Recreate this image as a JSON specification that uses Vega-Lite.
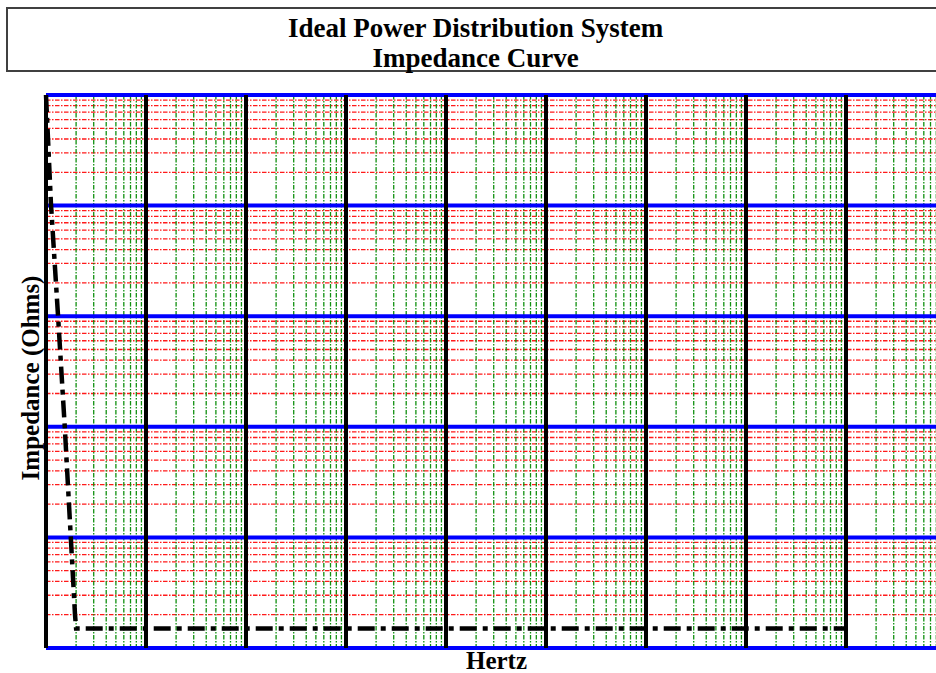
{
  "$schema": "https://vega.github.io/schema/vega-lite/v6.json",
  "padding": {"left": 6, "top": 7, "right": 0, "bottom": 0},
  "background": "white",
  "spacing": 12,
  "columns": 1,
  "config": {"view": {"stroke": null}},
  "datasets": {
    "curve": [
      {"f": 1, "z": 100000},
      {"f": 1.12, "z": 10500},
      {"f": 1.32, "z": 1000},
      {"f": 1.54, "z": 100},
      {"f": 1.77, "z": 10},
      {"f": 1.95, "z": 2.0},
      {"f": 2.0, "z": 1.5},
      {"f": 95500000, "z": 1.5}
    ],
    "xmajor": [
      {"f": 1}, {"f": 10}, {"f": 100}, {"f": 1000}, {"f": 10000}, {"f": 100000}, {"f": 1000000}, {"f": 10000000}, {"f": 100000000}, {"f": 1000000000}
    ],
    "ymajor": [
      {"z": 1}, {"z": 10}, {"z": 100}, {"z": 1000}, {"z": 10000}, {"z": 100000}
    ],
    "xminor": [
      {"f": 2}, {"f": 3}, {"f": 4}, {"f": 5}, {"f": 6}, {"f": 7}, {"f": 8}, {"f": 9},
      {"f": 20}, {"f": 30}, {"f": 40}, {"f": 50}, {"f": 60}, {"f": 70}, {"f": 80}, {"f": 90},
      {"f": 200}, {"f": 300}, {"f": 400}, {"f": 500}, {"f": 600}, {"f": 700}, {"f": 800}, {"f": 900},
      {"f": 2000}, {"f": 3000}, {"f": 4000}, {"f": 5000}, {"f": 6000}, {"f": 7000}, {"f": 8000}, {"f": 9000},
      {"f": 20000}, {"f": 30000}, {"f": 40000}, {"f": 50000}, {"f": 60000}, {"f": 70000}, {"f": 80000}, {"f": 90000},
      {"f": 200000}, {"f": 300000}, {"f": 400000}, {"f": 500000}, {"f": 600000}, {"f": 700000}, {"f": 800000}, {"f": 900000},
      {"f": 2000000}, {"f": 3000000}, {"f": 4000000}, {"f": 5000000}, {"f": 6000000}, {"f": 7000000}, {"f": 8000000}, {"f": 9000000},
      {"f": 20000000}, {"f": 30000000}, {"f": 40000000}, {"f": 50000000}, {"f": 60000000}, {"f": 70000000}, {"f": 80000000}, {"f": 90000000},
      {"f": 200000000}, {"f": 300000000}, {"f": 400000000}, {"f": 500000000}, {"f": 600000000}, {"f": 700000000}, {"f": 800000000}, {"f": 900000000}
    ],
    "yminor": [
      {"z": 2}, {"z": 3}, {"z": 4}, {"z": 5}, {"z": 6}, {"z": 7}, {"z": 8}, {"z": 9},
      {"z": 20}, {"z": 30}, {"z": 40}, {"z": 50}, {"z": 60}, {"z": 70}, {"z": 80}, {"z": 90},
      {"z": 200}, {"z": 300}, {"z": 400}, {"z": 500}, {"z": 600}, {"z": 700}, {"z": 800}, {"z": 900},
      {"z": 2000}, {"z": 3000}, {"z": 4000}, {"z": 5000}, {"z": 6000}, {"z": 7000}, {"z": 8000}, {"z": 9000},
      {"z": 20000}, {"z": 30000}, {"z": 40000}, {"z": 50000}, {"z": 60000}, {"z": 70000}, {"z": 80000}, {"z": 90000}
    ],
    "titles": [
      {"t": "Ideal Power Distribution System\nImpedance Curve"}
    ]
  },
  "concat": [
    {
      "width": 937,
      "height": 63,
      "view": {"stroke": "#404040", "strokeWidth": 2},
      "data": {"name": "titles"},
      "mark": {
        "type": "text",
        "baseline": "top",
        "align": "center",
        "dy": -24,
        "lineBreak": "\n",
        "lineHeight": 30.6,
        "font": "Liberation Serif",
        "fontSize": 27,
        "fontWeight": "bold",
        "color": "#000000"
      },
      "encoding": {"text": {"field": "t", "type": "nominal"}}
    },
    {
      "width": 939,
      "height": 553,
      "layer": [
        {
          "data": {"name": "yminor"},
          "mark": {"type": "rule", "color": "#ff1a1a", "strokeWidth": 1.3, "strokeDash": [4.5, 1.5, 1.5, 1.5]},
          "encoding": {
            "y": {"field": "z", "type": "quantitative",
              "scale": {"type": "log", "domain": [1, 100000], "nice": false},
              "axis": {"title": "Impedance (Ohms)", "labels": false, "domain": false, "grid": false, "ticks": false,
                "titleFont": "Liberation Serif", "titleFontSize": 25, "titleFontWeight": "bold", "titleColor": "#000000",
                "titleX": 36, "titleY": 282.5, "titleAngle": 270, "titleBaseline": "bottom", "titleAlign": "center"}},
            "x": {"datum": 1, "type": "quantitative",
              "scale": {"type": "log", "domain": [0.40738, 1000000000], "nice": false},
              "axis": {"title": "Hertz", "labels": false, "domain": false, "grid": false, "ticks": false,
                "titleFont": "Liberation Serif", "titleFontSize": 25, "titleFontWeight": "bold", "titleColor": "#000000",
                "titleX": 489, "titleY": 0, "titleBaseline": "top", "titleAlign": "center"}},
            "x2": {"datum": 1000000000}
          }
        },
        {
          "data": {"name": "xminor"},
          "mark": {"type": "rule", "color": "#109010", "strokeWidth": 1.3, "strokeDash": [4.5, 1.5, 1.5, 1.5]},
          "encoding": {
            "x": {"field": "f", "type": "quantitative",
              "scale": {"type": "log", "domain": [0.40738, 1000000000], "nice": false},
              "axis": {"title": "Hertz", "labels": false, "domain": false, "grid": false, "ticks": false,
                "titleFont": "Liberation Serif", "titleFontSize": 25, "titleFontWeight": "bold", "titleColor": "#000000",
                "titleX": 489, "titleY": 0, "titleBaseline": "top", "titleAlign": "center"}}
          }
        },
        {
          "data": {"name": "ymajor"},
          "mark": {"type": "rule", "color": "#0000ff", "strokeWidth": 4},
          "encoding": {
            "y": {"field": "z", "type": "quantitative",
              "scale": {"type": "log", "domain": [1, 100000], "nice": false},
              "axis": {"title": "Impedance (Ohms)", "labels": false, "domain": false, "grid": false, "ticks": false,
                "titleFont": "Liberation Serif", "titleFontSize": 25, "titleFontWeight": "bold", "titleColor": "#000000",
                "titleX": 36, "titleY": 282.5, "titleAngle": 270, "titleBaseline": "bottom", "titleAlign": "center"}},
            "x": {"datum": 1, "type": "quantitative",
              "scale": {"type": "log", "domain": [0.40738, 1000000000], "nice": false},
              "axis": {"title": "Hertz", "labels": false, "domain": false, "grid": false, "ticks": false,
                "titleFont": "Liberation Serif", "titleFontSize": 25, "titleFontWeight": "bold", "titleColor": "#000000",
                "titleX": 489, "titleY": 0, "titleBaseline": "top", "titleAlign": "center"}},
            "x2": {"datum": 1000000000}
          }
        },
        {
          "data": {"name": "xmajor"},
          "mark": {"type": "rule", "color": "#000000", "strokeWidth": 4},
          "encoding": {
            "x": {"field": "f", "type": "quantitative",
              "scale": {"type": "log", "domain": [0.40738, 1000000000], "nice": false},
              "axis": {"title": "Hertz", "labels": false, "domain": false, "grid": false, "ticks": false,
                "titleFont": "Liberation Serif", "titleFontSize": 25, "titleFontWeight": "bold", "titleColor": "#000000",
                "titleX": 489, "titleY": 0, "titleBaseline": "top", "titleAlign": "center"}}
          }
        },
        {
          "data": {"name": "curve"},
          "mark": {"type": "line", "color": "#000000", "strokeWidth": 4.5, "strokeDash": [17, 6, 5, 6], "strokeCap": "butt"},
          "encoding": {
            "x": {"field": "f", "type": "quantitative",
              "scale": {"type": "log", "domain": [0.40738, 1000000000], "nice": false},
              "axis": {"title": "Hertz", "labels": false, "domain": false, "grid": false, "ticks": false,
                "titleFont": "Liberation Serif", "titleFontSize": 25, "titleFontWeight": "bold", "titleColor": "#000000",
                "titleX": 489, "titleY": 0, "titleBaseline": "top", "titleAlign": "center"}},
            "y": {"field": "z", "type": "quantitative",
              "scale": {"type": "log", "domain": [1, 100000], "nice": false},
              "axis": {"title": "Impedance (Ohms)", "labels": false, "domain": false, "grid": false, "ticks": false,
                "titleFont": "Liberation Serif", "titleFontSize": 25, "titleFontWeight": "bold", "titleColor": "#000000",
                "titleX": 36, "titleY": 282.5, "titleAngle": 270, "titleBaseline": "bottom", "titleAlign": "center"}}
          }
        }
      ]
    }
  ]
}
